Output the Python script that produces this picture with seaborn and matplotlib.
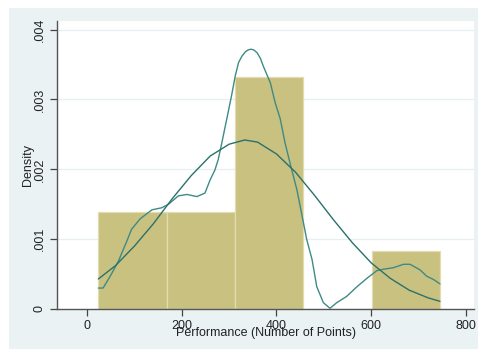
import matplotlib
matplotlib.use("Agg")
import matplotlib.pyplot as plt
from matplotlib.patches import Rectangle
from matplotlib.ticker import FuncFormatter
import numpy as np
import pandas as pd
import seaborn as sns

# Histogram bins: midpoints and counts (N = 25)
bin_edges = [24, 168.2, 312.4, 456.6, 600.8, 745]
bin_mids = [96.1, 240.3, 384.5, 528.7, 672.9]
bin_counts = [5, 5, 12, 0, 3]

# Kernel density estimate
kde_x = [24, 34, 49, 66, 84, 94, 112, 137, 158, 172, 193, 211, 232, 249, 260,
         270, 277, 284, 295, 305, 313, 320, 327, 334, 340, 346, 352, 359, 366,
         372, 387, 397, 408, 418, 430, 443, 457, 464, 475, 485, 499, 513, 527,
         548, 570, 591, 612, 626, 646, 668, 682, 703, 717, 732, 745]
kde_y = [0.00030, 0.00030, 0.00047, 0.00068, 0.00097, 0.00114, 0.00129, 0.00142,
         0.00145, 0.00150, 0.00162, 0.00164, 0.00161, 0.00166, 0.00185, 0.00199,
         0.00214, 0.00236, 0.00272, 0.00305, 0.00334, 0.00353, 0.00362, 0.00368,
         0.00371, 0.00372, 0.00371, 0.00367, 0.00359, 0.00348, 0.00324, 0.00296,
         0.00272, 0.00238, 0.00205, 0.00171, 0.00123, 0.00099, 0.00071, 0.00032,
         0.00009, 0.00001, 0.00009, 0.00018, 0.00032, 0.00044, 0.00055, 0.00057,
         0.00059, 0.00064, 0.00064, 0.00056, 0.00047, 0.00042, 0.00036]

# Normal density overlay
norm_x = [24, 60, 100, 140, 180, 220, 260, 300, 333, 360, 400, 440, 480, 520,
          560, 600, 640, 680, 720, 745]
norm_y = [0.00043, 0.00062, 0.00090, 0.00122, 0.00158, 0.00191, 0.00219, 0.00236,
          0.00242, 0.00239, 0.00222, 0.00196, 0.00163, 0.00128, 0.00095, 0.00066,
          0.00044, 0.00027, 0.00016, 0.00011]

x_ticks = [0, 200, 400, 600, 800]
y_ticks = [0, 0.001, 0.002, 0.003, 0.004]

sns.set_theme(style="white")
plt.rcParams['font.family'] = ['Liberation Sans', 'DejaVu Sans']

W, H = 479, 349
fig = plt.figure(figsize=(W / 100, H / 100), dpi=100)
fig.patch.set_facecolor("white")
# Graph region background
fig.patches.append(Rectangle((9 / W, 0), (478 - 9) / W, (349 - 8) / H,
                             transform=fig.transFigure, facecolor="#eaf2f3",
                             edgecolor="none", zorder=-5))

ax = fig.add_axes([57 / W, (H - 309) / H, (474 - 57) / W, (309 - 21) / H])
ax.set_zorder(2)
ax.set_facecolor("white")

hist_df = pd.DataFrame({"mid": bin_mids, "count": bin_counts})
sns.histplot(data=hist_df, x="mid", weights="count", bins=bin_edges,
             stat="density", color="#c9c17f", edgecolor="#e2dcb0",
             linewidth=0.9, alpha=1.0, ax=ax, zorder=2)

sns.lineplot(x=kde_x, y=kde_y, color="#3f8a85", linewidth=1.0, ax=ax,
             sort=False, zorder=3)
sns.lineplot(x=norm_x, y=norm_y, color="#2a716c", linewidth=1.0, ax=ax,
             sort=False, zorder=3)

ax.set_xlim(-63.3, 816.9)
ax.set_ylim(0, 0.004124)

for yv in y_ticks[1:]:
    ax.axhline(yv, color="#e6eff1", linewidth=0.9, zorder=1)

ax.set_xticks(x_ticks)
ax.set_yticks(y_ticks)
ax.yaxis.set_major_formatter(FuncFormatter(
    lambda v, p: "0" if v == 0 else ("%.3f" % v).lstrip("0")))
ax.tick_params(axis="both", which="major", direction="out", length=5,
               width=0.9, color="#444444", labelsize=9, labelcolor="#222222",
               bottom=True, left=True, pad=3)
for lab in ax.get_yticklabels():
    lab.set_rotation(90)
    lab.set_va("center")

for side in ["top", "right"]:
    ax.spines[side].set_visible(False)
for side in ["left", "bottom"]:
    ax.spines[side].set_color("#555555")
    ax.spines[side].set_linewidth(1.0)

ax.set_xlabel("")
ax.set_ylabel("")
fig.text(265.5 / W, 1 - 333 / H, "Performance (Number of Points)",
         ha="center", va="center", fontsize=9, color="#222222", zorder=5)
fig.text(28 / W, 1 - 165 / H, "Density", rotation=90,
         ha="center", va="center", fontsize=9, color="#222222", zorder=5)

fig.savefig("out.png", dpi=100, facecolor=fig.get_facecolor())
